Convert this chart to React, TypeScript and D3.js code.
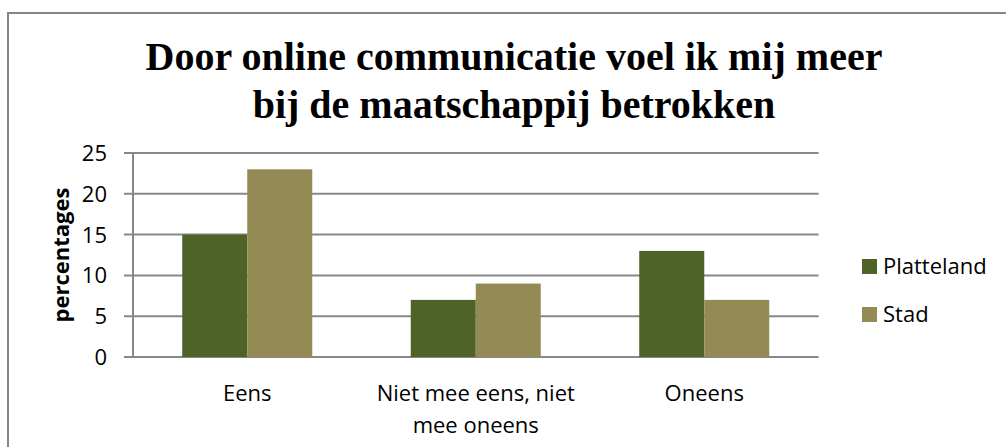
import React from "react";
import * as d3 from "d3";

const categories = ["Eens", "Niet mee eens, niet|mee oneens", "Oneens"];
const seriesNames = ["Platteland", "Stad"];
const platteland = [15, 7, 13];
const stad = [23, 9, 7];
const yTicks = [0, 5, 10, 15, 20, 25];
const titleLines = ["Door online communicatie voel ik mij meer", "bij de maatschappij betrokken"];
const colors = ["#4F6228", "#948A54"];

export default function App() {
  const W = 1006, H = 447;
  const plotL = 133, plotR = 818.5, plotT = 153, plotB = 357;
  const x = d3.scaleBand().domain(categories).range([plotL, plotR]).paddingInner(0).paddingOuter(0);
  const y = d3.scaleLinear().domain([0, 25]).range([plotB, plotT]);
  const groupW = x.bandwidth() * 0.569;
  const inner = d3.scaleBand().domain(seriesNames).range([0, groupW]);
  const values = [platteland, stad];
  const sans = "'Open Sans', sans-serif";
  const grid = "#878787";

  return (
    <svg width={W} height={H} style={{ position: "absolute", left: 0, top: 0, background: "#fff" }}>
      <rect x={8} y={13} width={1030} height={470} fill="#fff" stroke="#868686" strokeWidth={2} />
      {titleLines.map((t, i) => (
        <text key={i} x={514} y={70 + i * 48} textAnchor="middle" fontFamily="'Liberation Serif', serif" fontWeight="bold" fontSize={40} fill="#000">{t}</text>
      ))}
      {yTicks.map((t) => (
        <g key={t}>
          <line x1={plotL - 9} x2={plotR} y1={y(t)} y2={y(t)} stroke={grid} strokeWidth={2} />
          <text x={107} y={y(t)} dy="0.36em" textAnchor="end" fontFamily={sans} fontSize={22} fill="#000">{t}</text>
        </g>
      ))}
      <line x1={plotL} x2={plotL} y1={plotT} y2={plotB} stroke={grid} strokeWidth={2} />
      {categories.map((c, ci) => (
        <g key={c}>
          {seriesNames.map((s, si) => {
            const bx = (x(c) as number) + (x.bandwidth() - groupW) / 2 + (inner(s) as number);
            return (
              <rect key={s} x={bx} y={y(values[si][ci])} width={inner.bandwidth()} height={plotB - y(values[si][ci])} fill={colors[si]} />
            );
          })}
          {c.split("|").map((line, li) => (
            <text key={li} x={(x(c) as number) + x.bandwidth() / 2} y={401 + li * 32} textAnchor="middle" fontFamily={sans} fontSize={22} fill="#000">{line}</text>
          ))}
        </g>
      ))}
      <text transform={`translate(69,${(plotT + plotB) / 2}) rotate(-90)`} textAnchor="middle" fontFamily={sans} fontWeight="bold" fontSize={22} fill="#000">percentages</text>
      {seriesNames.map((s, si) => (
        <g key={s}>
          <rect x={862} y={259 + si * 48} width={15} height={15} fill={colors[si]} />
          <text x={883} y={274 + si * 48} fontFamily={sans} fontSize={22} fill="#000">{s}</text>
        </g>
      ))}
    </svg>
  );
}
